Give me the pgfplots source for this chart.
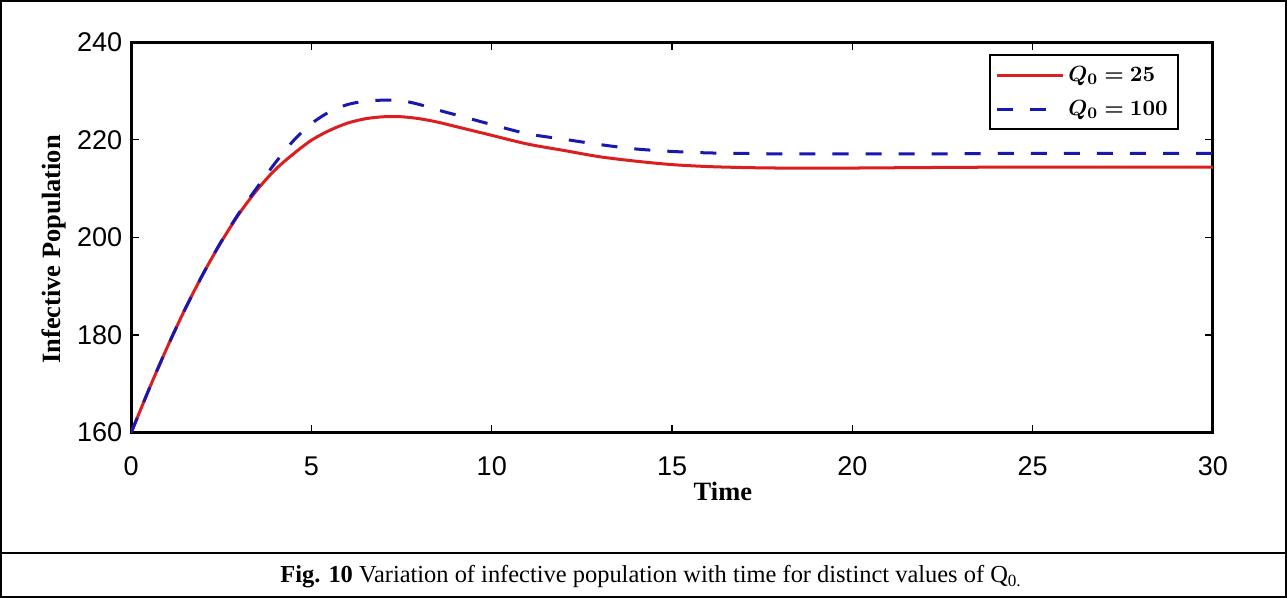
\documentclass[border=0pt]{standalone}
\usepackage{amsmath,bm}
\usepackage{fontspec}
\setmainfont{Liberation Serif}
\setsansfont{Liberation Sans}
\usepackage{pgfplots}
\pgfplotsset{compat=1.18}
\definecolor{QRed}{HTML}{DC1E1E}
\definecolor{QBlue}{HTML}{1818B0}

\pgfplotstableread{
t I
0 160
0.5 169
1 177.5
1.5 185.4
2 192.6
2.5 199.1
3 204.9
3.5 209.8
4 213.9
4.5 217.1
5 219.9
5.5 221.9
6 223.4
6.5 224.3
7 224.7
7.5 224.7
8 224.3
8.5 223.6
9 222.7
9.5 221.8
10 220.9
11 219.1
12 217.8
13 216.5
14 215.6
15 214.9
16 214.5
17 214.3
18 214.2
20 214.2
22 214.3
25 214.4
30 214.4
}\lowQ

\pgfplotstableread{
t I
0 160
0.5 169
1 177.5
1.5 185.4
2 192.6
2.5 199.2
3 205.1
3.5 210.3
4 215.3
4.5 219.8
5 223.3
5.5 225.7
6 227.2
6.5 227.9
7 228.1
7.5 228.0
8 227.2
8.5 226.1
9 225.1
9.5 224.1
10 223.1
11 221.2
12 220.1
13 219.0
14 218.1
15 217.6
16 217.3
17 217.2
18 217.1
20 217.1
22 217.1
25 217.2
30 217.2
}\highQ

\begin{document}
\begin{tikzpicture}
\begin{axis}[
  scale only axis, width=540pt, height=195pt,
  xmin=0, xmax=30, ymin=160, ymax=240,
  xtick={0,5,...,30}, ytick={160,180,...,240},
  axis line style={line width=1.5pt},
  tick style={black, line width=0.6pt},
  major tick length=4pt,
  tick align=inside,
  tick label style={font=\fontsize{13.5}{15}\sffamily},
  /pgf/number format/assume math mode=true,
  xticklabel style={yshift=-8.5pt},
  yticklabel style={xshift=-1pt},
  xlabel={\textbf{Time}},
  ylabel={\textbf{Infective Population}},
  label style={font=\fontsize{13.2}{15}\selectfont},
  xlabel style={at={(axis description cs:0.547,-0.1513)}, anchor=center},
  ylabel style={at={(axis description cs:-0.0713,0.469)}, anchor=center},
  legend style={at={(rel axis cs:0.9685,0.969)}, anchor=north east,
    draw=black, line width=1pt, font=\fontsize{11}{13}\selectfont,
    inner xsep=3pt, inner ysep=3.5pt, row sep=4pt},
  legend cell align=left,
  legend image code/.code={\draw[#1,line width=1.5pt] (0cm,0cm) -- (1.15cm,0cm);},
]
\addplot[QRed, line width=1.5pt, smooth] table[x=t,y=I] {\lowQ};
\addlegendentry{$\bm{Q_0=25}$}
\addplot[QBlue, line width=1.5pt, smooth, dash pattern=on 8pt off 8.5pt] table[x=t,y=I] {\highQ};
\addlegendentry{$\bm{Q_0=100}$}
\end{axis}
\draw[line width=1pt] ([xshift=-65pt,yshift=-82pt]current axis.south west) rectangle ([xshift=36.5pt,yshift=20.5pt]current axis.north east);
\draw[line width=1pt] ([xshift=-65pt,yshift=-60pt]current axis.south west) -- ([xshift=36.5pt,yshift=-60pt]current axis.south east);
\node[font=\fontsize{12.2}{14}\selectfont, anchor=base] at ([xshift=259.5pt,yshift=-75pt]current axis.south west) {\textbf{Fig. 10} Variation of infective population with time for distinct values of Q\textsubscript{0.}};
\end{tikzpicture}
\end{document}
